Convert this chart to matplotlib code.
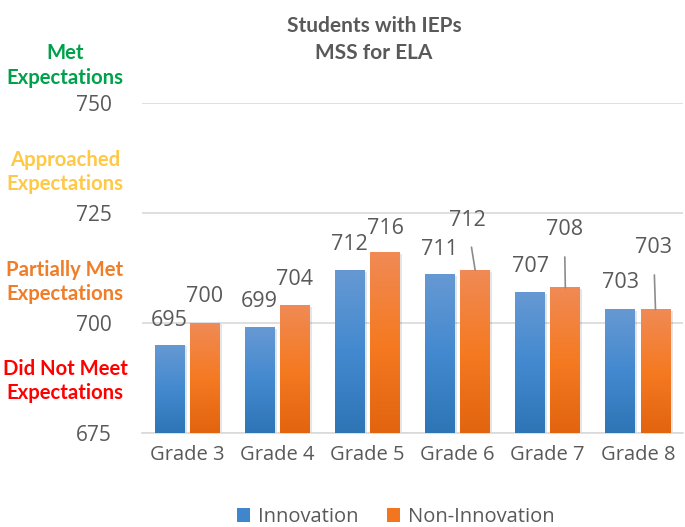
import numpy as np
import matplotlib
matplotlib.use("Agg")
import matplotlib.pyplot as plt
from matplotlib.colors import LinearSegmentedColormap
from matplotlib.patches import Patch
from matplotlib.transforms import blended_transform_factory

plt.rcParams['font.family'] = ['Open Sans', 'DejaVu Sans']

grades = ["Grade 3", "Grade 4", "Grade 5", "Grade 6", "Grade 7", "Grade 8"]
innovation = [695, 699, 712, 711, 707, 703]
non_innovation = [700, 704, 716, 712, 708, 703]
levels = ["Met\nExpectations", "Approached\nExpectations",
          "Partially Met\nExpectations", "Did Not Meet\nExpectations"]
level_y = [758.6, 734.3, 709.3, 686.8]
level_colors = ["#00A14B", "#FFC845", "#F07D28", "#FF0000"]
yticks = [675, 700, 725, 750]

# label offsets in pixels (dx, dy) from the top of each bar
inno_off = [(0, 24), (0, 26), (0, 26), (-1, 25), (0, 26), (0, 27)]
non_off = [(0, 26), (0, 26), (0, 24), (-8, 50), (-1, 58), (-2, 62)]
leader = [False, False, False, True, True, True]

gray = "#595959"
blue_cm = LinearSegmentedColormap.from_list("b", ["#6699D3", "#4389CF", "#2E75B6"])
orange_cm = LinearSegmentedColormap.from_list("o", ["#F08A55", "#F57A22", "#E2640E"])

fig = plt.figure(figsize=(6.85, 5.27), dpi=100)
ax = fig.add_axes([142 / 685, 94 / 527, 541 / 685, 330 / 527])

x = np.arange(len(grades))
w = 0.33
off = 0.195
grad = np.linspace(0, 1, 256).reshape(-1, 1)

for i in range(len(grades)):
    for xc, val, cm in [(x[i] - off, innovation[i], blue_cm),
                        (x[i] + off, non_innovation[i], orange_cm)]:
        # faint shadow
        ax.bar(xc + 0.025, val - 675 + 0.3, bottom=675 - 0.6, width=w,
               color="#000000", alpha=0.10, zorder=2, linewidth=0)
        ax.imshow(grad, cmap=cm, aspect="auto", zorder=3,
                  extent=[xc - w / 2, xc + w / 2, 675, val])

ax.set_xlim(-0.5, 5.5)
ax.set_ylim(675, 750)

for i in range(len(grades)):
    xb = x[i] - off
    ax.annotate(str(innovation[i]), xy=(xb, innovation[i]),
                xytext=inno_off[i], textcoords="offset pixels",
                ha="center", va="center", fontsize=15.5, color=gray, zorder=5)
    xo = x[i] + off
    arrow = dict(arrowstyle="-", color="#8C8C8C", lw=1.2,
                 shrinkA=10, shrinkB=0) if leader[i] else None
    ax.annotate(str(non_innovation[i]), xy=(xo, non_innovation[i]),
                xytext=non_off[i], textcoords="offset pixels",
                ha="center", va="center", fontsize=15.5, color=gray, zorder=5,
                arrowprops=arrow)

ax.set_yticks(yticks)
ax.set_xticks(x)
ax.set_xticklabels(grades)
ax.tick_params(length=0, labelsize=14.5, labelcolor=gray)
ax.tick_params(axis="y", pad=22, labelsize=15)
ax.tick_params(axis="x", pad=9)
ax.grid(axis="y", color="#D9D9D9", lw=1.2, zorder=0)
ax.set_axisbelow(True)
for s in ["top", "right", "left"]:
    ax.spines[s].set_visible(False)
ax.spines["bottom"].set_color("#D9D9D9")
ax.spines["bottom"].set_linewidth(1.2)

trans = blended_transform_factory(fig.transFigure, ax.transData)
for lab, yy, c in zip(levels, level_y, level_colors):
    ax.text(65 / 685, yy, lab, transform=trans, ha="center", va="center",
            color=c, fontsize=14.6, fontweight="bold", linespacing=1.3,
            clip_on=False, family=["Lato", "DejaVu Sans"])

fig.text(374 / 685, 0.925, "Students with IEPs\nMSS for ELA", ha="center",
         va="center", fontsize=15, fontweight="bold", color=gray,
         linespacing=1.45, family=["Lato", "DejaVu Sans"])

handles = [Patch(facecolor="#3F86CD"), Patch(facecolor="#F2751F")]
fig.legend(handles, ["Innovation", "Non-Innovation"], loc="center",
           bbox_to_anchor=(396 / 685, 0.019), ncol=2, frameon=False,
           fontsize=14.5, labelcolor=gray, handlelength=0.65,
           handleheight=0.65, handletextpad=0.4, columnspacing=1.4)

fig.savefig("out.png", dpi=100)
